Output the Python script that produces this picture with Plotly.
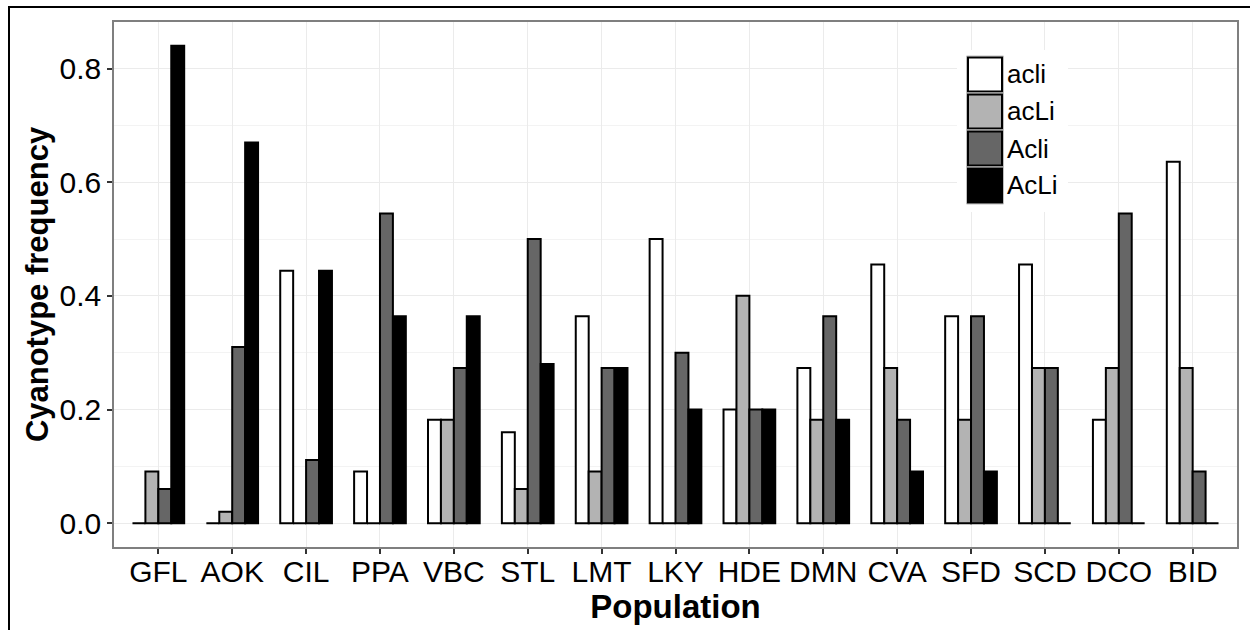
import plotly.graph_objects as go

populations = ["GFL", "AOK", "CIL", "PPA", "VBC", "STL", "LMT", "LKY",
               "HDE", "DMN", "CVA", "SFD", "SCD", "DCO", "BID"]
cyanotypes = ["acli", "acLi", "Acli", "AcLi"]
acli = [0, 0, 0.444, 0.091, 0.182, 0.16, 0.364, 0.5, 0.2, 0.273, 0.455, 0.364, 0.455, 0.182, 0.636]
acLi = [0.091, 0.02, 0, 0, 0.182, 0.06, 0.091, 0, 0.4, 0.182, 0.273, 0.182, 0.273, 0.273, 0.273]
Acli = [0.06, 0.31, 0.111, 0.545, 0.273, 0.5, 0.273, 0.3, 0.2, 0.364, 0.182, 0.364, 0.273, 0.545, 0.091]
AcLi = [0.84, 0.67, 0.444, 0.364, 0.364, 0.28, 0.273, 0.2, 0.2, 0.182, 0.091, 0.091, 0, 0, 0]
y_ticks = [0.0, 0.2, 0.4, 0.6, 0.8]

series = [acli, acLi, Acli, AcLi]
fills = ["#FFFFFF", "#B3B3B3", "#666666", "#000000"]

W, H = 1250, 630
ML, MR, MT, MB = 114, 13, 22, 83
PW, PH = W - ML - MR, H - MT - MB


def px_x(p):
    return (p - ML) / PW


def px_y(p):
    return (H - MB - p) / PH


FONT = "Liberation Sans, Arial, Helvetica, sans-serif"

fig = go.Figure()
for name, vals, col in zip(cyanotypes, series, fills):
    fig.add_trace(go.Bar(
        x=populations, y=vals, name=name,
        marker=dict(color=col, line=dict(color="#000000", width=2)),
        showlegend=False,
    ))

shapes = []
annotations = []
# outer figure border (left & top visible)
shapes.append(dict(type="line", xref="paper", yref="paper",
                   x0=px_x(9), x1=px_x(9), y0=px_y(6), y1=px_y(700),
                   line=dict(color="#000000", width=2), layer="above"))
shapes.append(dict(type="line", xref="paper", yref="paper",
                   x0=px_x(8), x1=px_x(1400), y0=px_y(7), y1=px_y(7),
                   line=dict(color="#000000", width=2), layer="above"))
# legend background
shapes.append(dict(type="rect", xref="paper", yref="paper",
                   x0=px_x(957), x1=px_x(1068), y0=px_y(50), y1=px_y(212),
                   line=dict(width=0), fillcolor="#FFFFFF", layer="above"))
key_top = 56
key_h = 37
for i, (name, col) in enumerate(zip(cyanotypes, fills)):
    t = key_top + i * key_h
    shapes.append(dict(type="rect", xref="paper", yref="paper",
                       x0=px_x(966.5), x1=px_x(1003.5), y0=px_y(t), y1=px_y(t + key_h),
                       line=dict(color="#BEBEBE", width=1), fillcolor="#FFFFFF", layer="above"))
    shapes.append(dict(type="rect", xref="paper", yref="paper",
                       x0=px_x(968), x1=px_x(1002), y0=px_y(t + 1.5), y1=px_y(t + key_h - 1.5),
                       line=dict(color="#000000", width=2), fillcolor=col, layer="above"))
    annotations.append(dict(xref="paper", yref="paper", x=px_x(1005), y=px_y(t + key_h / 2),
                            text=name, showarrow=False, xanchor="left", yanchor="middle",
                            font=dict(family=FONT, size=26, color="#000000")))

fig.update_layout(
    width=W, height=H,
    margin=dict(l=ML, r=MR, t=MT, b=MB),
    paper_bgcolor="#FFFFFF", plot_bgcolor="#FFFFFF",
    barmode="group", bargap=0.3, bargroupgap=0,
    font=dict(family=FONT, color="#000000"),
    shapes=shapes, annotations=annotations,
    showlegend=False,
    xaxis=dict(
        type="category", range=[-0.6, 14.6],
        showgrid=True, gridcolor="#EBEBEB", gridwidth=1,
        showline=True, mirror=True, linecolor="#7F7F7F", linewidth=1.5,
        ticks="outside", ticklen=5, tickwidth=1.5, tickcolor="#333333",
        ticklabelstandoff=-8,
        tickfont=dict(size=30, color="#000000", family=FONT),
        title=dict(text="<b>Population</b>", font=dict(size=33, family=FONT, color="#000000"),
                   standoff=0),
        zeroline=False,
    ),
    yaxis=dict(
        range=[-0.042, 0.882],
        tickvals=y_ticks, ticktext=[f"{v:.1f}" for v in y_ticks],
        showgrid=True, gridcolor="#EBEBEB", gridwidth=1.2,
        minor=dict(dtick=0.1, tick0=0, showgrid=True, gridcolor="#F3F3F3", gridwidth=1),
        showline=True, mirror=True, linecolor="#7F7F7F", linewidth=1.5,
        ticks="outside", ticklen=5, tickwidth=1.5, tickcolor="#333333",
        tickfont=dict(size=30, color="#000000", family=FONT),
        title=dict(text="<b>Cyanotype frequency</b>", font=dict(size=31, family=FONT, color="#000000"),
                   standoff=2),
        zeroline=False,
    ),
)

fig.write_html("out.html")
